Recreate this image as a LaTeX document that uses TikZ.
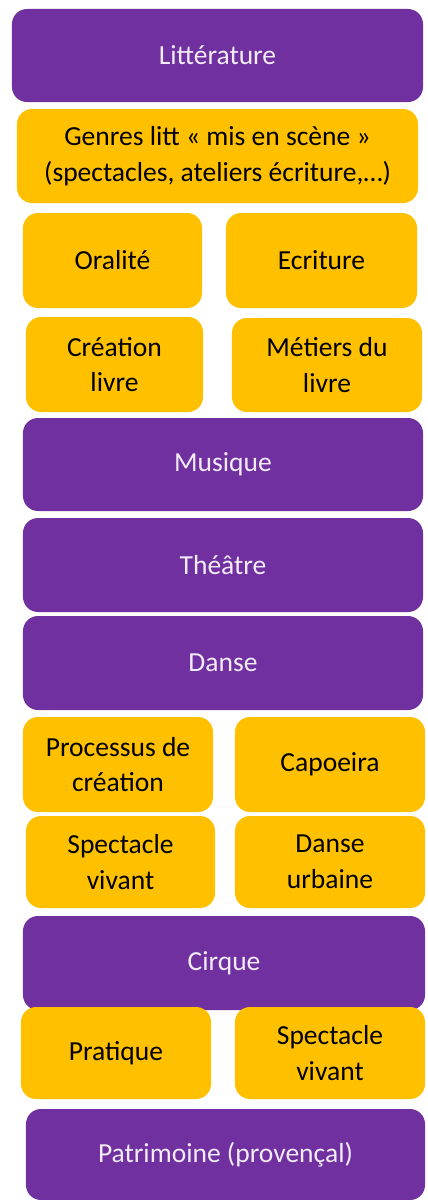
\documentclass[tikz,border=0pt]{standalone}
\usepackage{fontspec}
\setmainfont{Carlito}
\usepackage{tikz}
\usetikzlibrary{positioning}
\usepackage{xcolor}
\definecolor{violetbox}{HTML}{7030A0}
\definecolor{jaunebox}{HTML}{FFC000}
\definecolor{textclair}{HTML}{F2ECF8}
\tikzset{dims/.style 2 args={minimum width=#1, minimum height=#2}}

\begin{document}
\begin{tikzpicture}[
x=0.03cm, y=-0.03cm,
every node/.style={font=\fontsize{23.5}{30.5}\selectfont, align=center, inner sep=0pt, rounded corners=0.45cm},
pbox/.style={fill=violetbox, text=textclair},
ybox/.style={fill=jaunebox, text=black},
]
\useasboundingbox (0,0) rectangle (428,1200);

% Litterature
\node[pbox, dims={12.33cm}{2.79cm}] (lit) at (217.5,55.5) {Littérature};
\node[ybox, dims={12.03cm}{2.82cm}] (genres) at (217.5,156) {Genres litt « mis en scène »\\(spectacles, ateliers écriture,…)};
\node[ybox, dims={5.37cm}{2.85cm}] (oral) at (112.5,260.5) {Oralité};
\node[ybox, dims={5.73cm}{2.85cm}] (ecrit) at (321.5,260.5) {Ecriture};
\node[ybox, dims={5.31cm}{2.85cm}] (crea) at (114.5,364.5) {Création\\livre};
\node[ybox, dims={5.70cm}{2.82cm}] (metiers) at (327,365) {Métiers du\\livre};

% Musique, theatre, danse
\node[pbox, dims={12.0cm}{2.79cm}] (musique) at (223,464.5) {Musique};
\node[pbox, dims={12.0cm}{2.82cm}] (theatre) at (223,565) {Théâtre};
\node[pbox, dims={12.0cm}{2.82cm}] (danse) at (223,663) {Danse};
\node[ybox, dims={5.70cm}{2.85cm}] (process) at (118,764.5) {Processus de\\création};
\node[ybox, dims={5.70cm}{2.85cm}] (capo) at (330,764.5) {Capoeira};
\node[ybox, dims={5.67cm}{2.76cm}] (vivant) at (120.5,862) {Spectacle\\vivant};
\node[ybox, dims={5.70cm}{2.76cm}] (urbaine) at (330,862) {Danse\\urbaine};

% Cirque
\node[pbox, dims={12.06cm}{2.82cm}] (cirque) at (224,963) {Cirque};
\node[ybox, dims={5.70cm}{2.76cm}] (pratique) at (116,1053) {Pratique};
\node[ybox, dims={5.70cm}{2.76cm}] (vivantc) at (330,1053) {Spectacle\\vivant};

% Patrimoine
\node[pbox, dims={11.97cm}{2.73cm}] (patri) at (225.5,1154.5) {Patrimoine (provençal)};

\end{tikzpicture}
\end{document}
